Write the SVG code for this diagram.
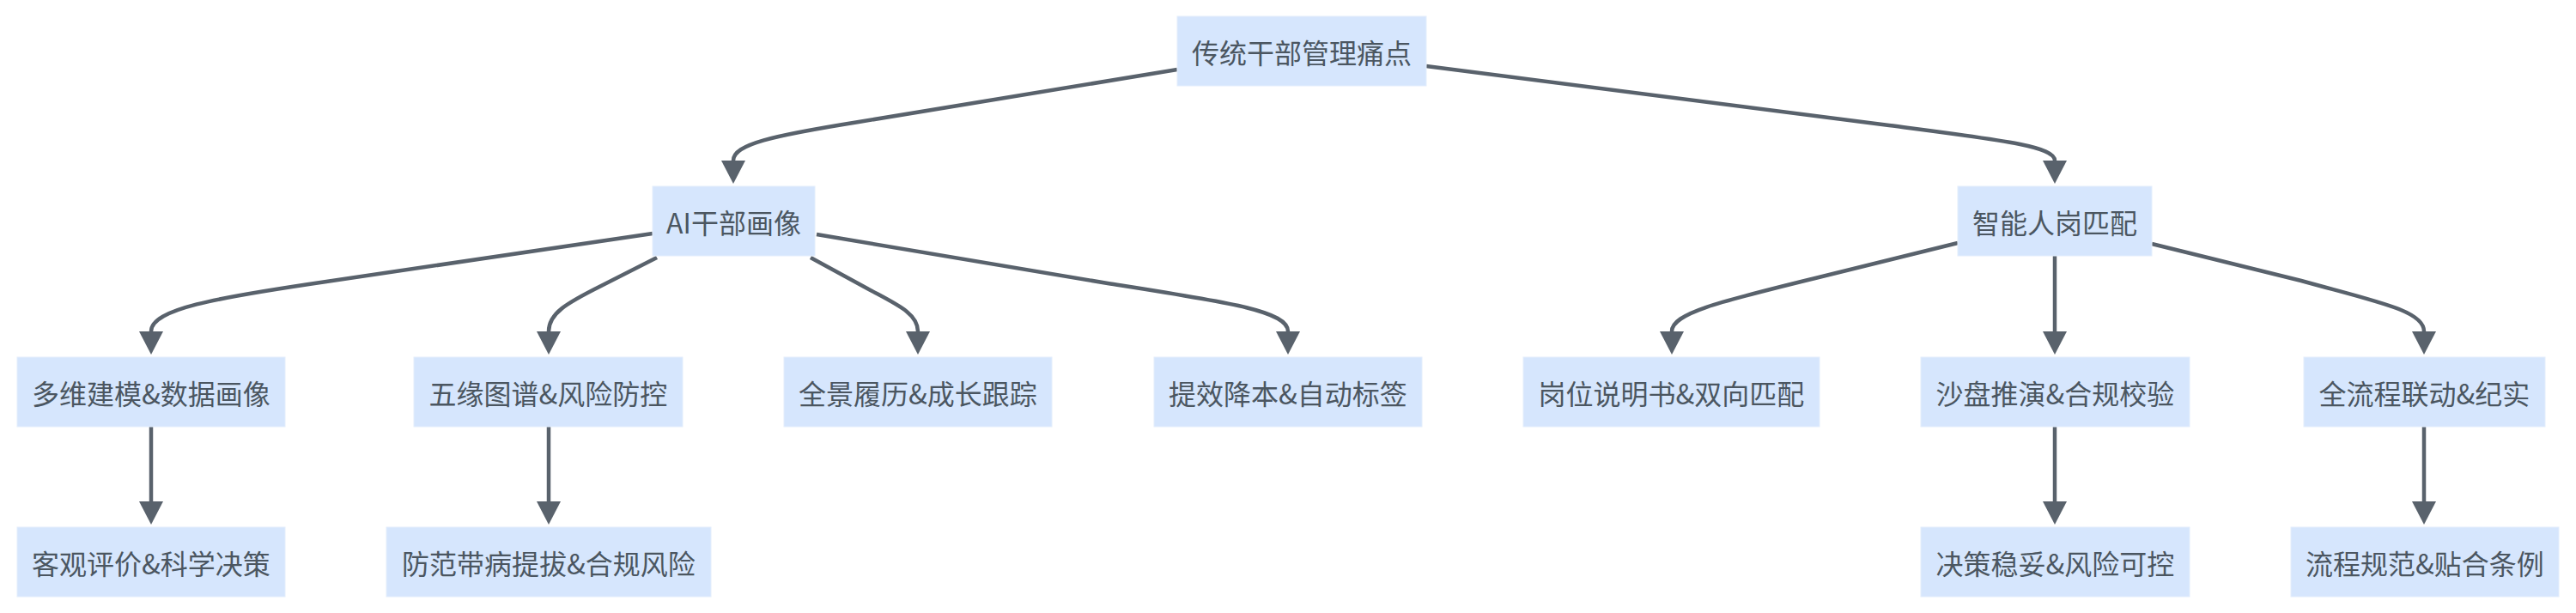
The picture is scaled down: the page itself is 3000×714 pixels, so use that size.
<svg xmlns="http://www.w3.org/2000/svg" width="3000" height="714" viewBox="0 0 3000 714">
<style>
.n rect{fill:#d6e6fd;stroke:#e3eefc;stroke-width:1}
.n text{font-family:"Noto Sans CJK SC","Noto Sans",sans-serif;font-size:32px;fill:#4b5661;text-anchor:middle;dominant-baseline:central}
.e path{fill:none;stroke:#59626c;stroke-width:4.5}
</style>
<defs>
<marker id="ah" viewBox="0 0 27 28" refX="0" refY="14" markerWidth="27" markerHeight="28" markerUnits="userSpaceOnUse" orient="auto">
<path d="M0,0 L27,14 L0,28 z" fill="#59626c"/>
</marker>
</defs>
<rect width="3000" height="714" fill="#ffffff"/>
<g id="edges" class="e">
<path marker-end="url(#ah)" d="M1371,81 L1000,142 C900,158 854,168 854,187"/>
<path marker-end="url(#ah)" d="M1661,77 L2200,146 C2330,163 2393,170 2393,187"/>
<path marker-end="url(#ah)" d="M760,272 L380,328 C250,347 176,360 176,386"/>
<path marker-end="url(#ah)" d="M765,300 L700,333 C660,353 639,365 639,386"/>
<path marker-end="url(#ah)" d="M944,300 L1010,336 C1045,355 1069,365 1069,386"/>
<path marker-end="url(#ah)" d="M951,273 L1290,330 C1430,352 1500,362 1500,386"/>
<path marker-end="url(#ah)" d="M2280,283 L2110,325 C2000,352 1947,365 1947,386"/>
<path marker-end="url(#ah)" d="M2393,298 L2393,386"/>
<path marker-end="url(#ah)" d="M2506,284 L2680,327 C2770,352 2823,362 2823,386"/>
<path marker-end="url(#ah)" d="M176,497 L176,584"/>
<path marker-end="url(#ah)" d="M639,497 L639,584"/>
<path marker-end="url(#ah)" d="M2393,497 L2393,584"/>
<path marker-end="url(#ah)" d="M2823,497 L2823,584"/>
</g>
<g id="n0" class="n"><rect x="1371" y="19" width="290" height="81"/><text x="1516" y="59.5">传统干部管理痛点</text></g>
<g id="n1" class="n"><rect x="760" y="217" width="189" height="81"/><text x="854.5" y="257.5">AI干部画像</text></g>
<g id="n2" class="n"><rect x="2280" y="217" width="226" height="81"/><text x="2393" y="257.5">智能人岗匹配</text></g>
<g id="n3" class="n"><rect x="20" y="416" width="312" height="81"/><text x="176" y="456.5">多维建模&amp;数据画像</text></g>
<g id="n4" class="n"><rect x="482" y="416" width="313" height="81"/><text x="638.5" y="456.5">五缘图谱&amp;风险防控</text></g>
<g id="n5" class="n"><rect x="913" y="416" width="312" height="81"/><text x="1069" y="456.5">全景履历&amp;成长跟踪</text></g>
<g id="n6" class="n"><rect x="1344" y="416" width="312" height="81"/><text x="1500" y="456.5">提效降本&amp;自动标签</text></g>
<g id="n7" class="n"><rect x="1774" y="416" width="345" height="81"/><text x="1946.5" y="456.5">岗位说明书&amp;双向匹配</text></g>
<g id="n8" class="n"><rect x="2237" y="416" width="313" height="81"/><text x="2393.5" y="456.5">沙盘推演&amp;合规校验</text></g>
<g id="n9" class="n"><rect x="2683" y="416" width="281" height="81"/><text x="2823.5" y="456.5">全流程联动&amp;纪实</text></g>
<g id="n10" class="n"><rect x="20" y="614" width="312" height="81"/><text x="176" y="654.5">客观评价&amp;科学决策</text></g>
<g id="n11" class="n"><rect x="450" y="614" width="378" height="81"/><text x="639" y="654.5">防范带病提拔&amp;合规风险</text></g>
<g id="n12" class="n"><rect x="2237" y="614" width="313" height="81"/><text x="2393.5" y="654.5">决策稳妥&amp;风险可控</text></g>
<g id="n13" class="n"><rect x="2668" y="614" width="312" height="81"/><text x="2824" y="654.5">流程规范&amp;贴合条例</text></g>
</svg>
